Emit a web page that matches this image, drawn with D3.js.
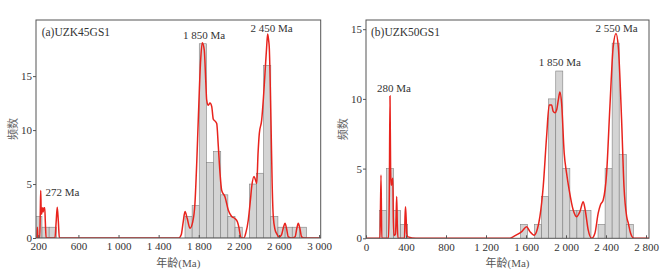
<!DOCTYPE html>
<html lang="zh">
<head>
<meta charset="UTF-8">
<title>UZK45GS1 / UZK50GS1</title>
<script src="https://d3js.org/d3.v7.min.js"></script>
<style>
  body { margin: 0; background: #fff; }
  text { font-family: "Liberation Serif", "Noto Sans CJK SC", serif; fill: #333; }
</style>
</head>
<body>
<svg width="670" height="275"></svg>
<script>
// (a) UZK45GS1 -- histogram bins: lower edge (Ma) and number of grains
const binWidthA = 71.3;
const binAgesA = [165, 237, 308, 1663, 1734, 1805, 1877, 1948, 2019, 2090, 2162, 2304, 2376, 2447, 2518, 2590, 2661, 2732, 2803];
const binCountsA = [2, 1, 1, 2, 3, 18, 7, 8, 4, 2, 1, 5, 6, 16, 2, 1, 1, 1, 1];
// probability density curve, [age, height in count units]
const curveA = [
  [177, 0], [186, 0], [191, 1.0], [196, 0], [214, 0], [220, 2.5], [224, 4.4], [228, 2.8], [233, 2.2],
  [240, 2.8], [248, 2.4], [256, 2.8], [264, 2.8], [270, 1.5], [278, 0], [366, 0], [378, 1.5], [389, 2.85],
  [400, 1.5], [410, 0], [1600, 0], [1625, 0.3], [1645, 1.5], [1663, 2.45], [1685, 1.8], [1712, 0.9],
  [1740, 1.5], [1762, 3.2], [1780, 7], [1795, 10.9], [1819, 16.5], [1835, 18.1], [1855, 17.4], [1870, 14.5],
  [1879, 12.8], [1895, 12.3], [1912, 12.5], [1929, 12.2], [1945, 11], [1955, 10.9], [1979, 10.6], [1995, 8.5],
  [2012, 6], [2029, 4.4], [2062, 3.8], [2094, 2.6], [2128, 2.0], [2161, 1.8], [2185, 1.5], [2200, 1.0],
  [2215, 0.2], [2228, 0], [2250, 0], [2270, 0.5], [2294, 1.67], [2315, 3.5], [2328, 4.75], [2351, 5.7],
  [2365, 5.4], [2378, 5.06], [2392, 8], [2404, 9.7], [2427, 10.9], [2445, 13], [2460, 15.2], [2477, 17.7],
  [2487, 18.9], [2497, 18.3], [2503, 17.7], [2520, 10.9], [2532, 5], [2543, 2.0], [2560, 0.8], [2577, 0.4],
  [2600, 0.1], [2625, 0.3], [2645, 1.0], [2660, 1.36], [2675, 0.9], [2693, 0.1], [2726, 0], [2760, 0.1],
  [2778, 0.9], [2792, 1.36], [2808, 0.9], [2826, 0.1], [2850, 0], [3016, 0]
];
const peakTextA = ["272 Ma", "1 850 Ma", "2 450 Ma"];
const peakAgeA = [272, 1852, 2527];
const peakValA = [3.9, 18.4, 19.07];
const xTicksA = [200, 600, 1000, 1400, 1800, 2200, 2600, 3000];

// (b) UZK50GS1
const binWidthB = 70.5;
const binAgesB = [135, 205.5, 276, 346.5, 1545, 1686, 1756.5, 1827, 1897.5, 1968, 2038.5, 2109, 2179.5, 2320.5, 2391, 2461.5, 2532, 2602.5];
const binCountsB = [2, 5, 2, 1, 1, 1, 3, 10, 12, 5, 2, 2, 2, 1, 5, 14, 6, 1];
const curveB = [
  [0, 0], [140, 0], [150, 4.54], [158, 0], [225, 0], [233, 3], [240, 10.2], [246, 5], [252, 3.8], [258, 4.0],
  [263, 4.2], [268, 4.3], [273, 1.5], [280, 0.2], [295, 0.3], [301, 1.5], [307, 3.0], [313, 1.0], [320, 0],
  [385, 0], [390, 1.5], [395, 2.27], [401, 1.5], [408, 0.3], [420, 0.1], [500, 0], [1440, 0], [1470, 0.1],
  [1505, 0.24], [1560, 0.5], [1606, 0.83], [1639, 0.48], [1682, 0.22], [1715, 0.7], [1739, 1.55], [1772, 3.7],
  [1806, 7.3], [1832, 9.56], [1856, 9.56], [1872, 9.1], [1890, 9.0], [1906, 9.2], [1925, 10], [1939, 10.5],
  [1956, 9.7], [1982, 6.1], [2006, 4.66], [2032, 3.46], [2072, 2.03], [2106, 1.55], [2139, 1.91], [2172, 2.63],
  [2192, 2.03], [2222, 0.6], [2256, 0], [2289, 0.36], [2322, 1.8], [2345, 2.4], [2372, 2.75], [2406, 4.66],
  [2439, 9.44], [2472, 13.74], [2500, 14.7], [2523, 13.74], [2556, 8.5], [2580, 3.7], [2607, 1.55],
  [2623, 1.08], [2646, 0.36], [2680, 0], [2830, 0]
];
const peakTextB = ["280 Ma", "1 850 Ma", "2 550 Ma"];
const peakAgeB = [280, 1939, 2506];
const peakValB = [10.5, 12.36, 14.8];
const xTicksB = [0, 400, 800, 1200, 1600, 2000, 2400, 2800];

const yTicks = [0, 5, 10, 15];

const svg = d3.select('svg');
const fmt = d => d >= 1000 ? String(d).replace(/(\d)(\d{3})$/, '$1 $2') : String(d);

function drawPanel(o) {
  const g = svg.append('g').attr('transform', `translate(${o.left},${o.top})`);
  const x = d3.scaleLinear().domain(o.xDomain).range([0, o.w]);
  const y = d3.scaleLinear().domain([0, o.yMax]).range([o.h, 0]);

  g.append('clipPath').attr('id', o.id)
    .append('rect').attr('width', o.w).attr('height', o.h);

  const plot = g.append('g').attr('clip-path', `url(#${o.id})`);

  plot.selectAll('rect.bar')
    .data(d3.zip(o.binAges, o.binCounts))
    .join('rect')
    .attr('class', 'bar')
    .attr('x', d => x(d[0]))
    .attr('width', d => x(d[0] + o.binWidth) - x(d[0]))
    .attr('y', d => y(d[1]))
    .attr('height', d => y(0) - y(d[1]))
    .attr('fill', '#d4d4d4')
    .attr('stroke', '#808080')
    .attr('stroke-width', 0.6);

  const line = d3.line()
    .x(d => x(d[0]))
    .y(d => y(d[1]))
    .curve(d3.curveMonotoneX);

  plot.append('path')
    .attr('d', line(o.curve))
    .attr('fill', 'none')
    .attr('stroke', '#e8231d')
    .attr('stroke-width', 1.5);

  // frame
  g.append('rect')
    .attr('width', o.w).attr('height', o.h)
    .attr('fill', 'none').attr('stroke', '#555').attr('stroke-width', 1);

  const xAxis = d3.axisBottom(x).tickValues(o.xTicks).tickSize(-3).tickPadding(4.5).tickFormat(fmt);
  const yAxis = d3.axisLeft(y).tickValues(yTicks).tickSize(3).tickPadding(1);

  const gx = g.append('g').attr('transform', `translate(0,${o.h})`).call(xAxis);
  const gy = g.append('g').call(yAxis);
  [gx, gy].forEach(a => {
    a.select('.domain').remove();
    a.selectAll('line').attr('stroke', '#555');
    a.selectAll('text').attr('font-size', 11).attr('fill', '#333')
      .attr('font-family', '"Liberation Serif", serif');
  });

  // peak age labels
  g.selectAll('text.peak')
    .data(d3.zip(o.peakText, o.peakAge, o.peakVal))
    .join('text')
    .attr('class', 'peak')
    .attr('x', d => x(d[1]))
    .attr('y', d => y(d[2]))
    .attr('text-anchor', (d, i) => i === 0 && o.firstStart ? 'start' : 'middle')
    .attr('font-size', 11)
    .text(d => d[0]);

  g.append('text')
    .attr('x', o.titleDx).attr('y', 16)
    .attr('font-size', 11.5)
    .text(o.title);

  g.append('text')
    .attr('transform', `translate(-23,${o.h / 2}) rotate(-90)`)
    .attr('text-anchor', 'middle')
    .attr('dominant-baseline', 'central')
    .attr('font-size', 11)
    .attr('fill', '#666')
    .style('fill', '#666')
    .text('频数');

  g.append('text')
    .attr('x', o.w / 2).attr('y', o.h + 28.5)
    .attr('text-anchor', 'middle')
    .attr('font-size', 11)
    .style('fill', '#555')
    .text('年龄(Ma)');
}

drawPanel({
  id: 'clipA', left: 36, top: 20, w: 284.7, h: 218,
  xDomain: [177, 3016], yMax: 20.2,
  binAges: binAgesA, binCounts: binCountsA, binWidth: binWidthA,
  curve: curveA, xTicks: xTicksA,
  peakText: peakTextA, peakAge: peakAgeA, peakVal: peakValA, firstStart: true,
  title: '(a)UZK45GS1', titleDx: 5.7
});

drawPanel({
  id: 'clipB', left: 366, top: 20, w: 283, h: 218.3,
  xDomain: [0, 2830], yMax: 15.66,
  binAges: binAgesB, binCounts: binCountsB, binWidth: binWidthB,
  curve: curveB, xTicks: xTicksB,
  peakText: peakTextB, peakAge: peakAgeB, peakVal: peakValB, firstStart: false,
  title: '(b)UZK50GS1', titleDx: 5
});
</script>
</body>
</html>
